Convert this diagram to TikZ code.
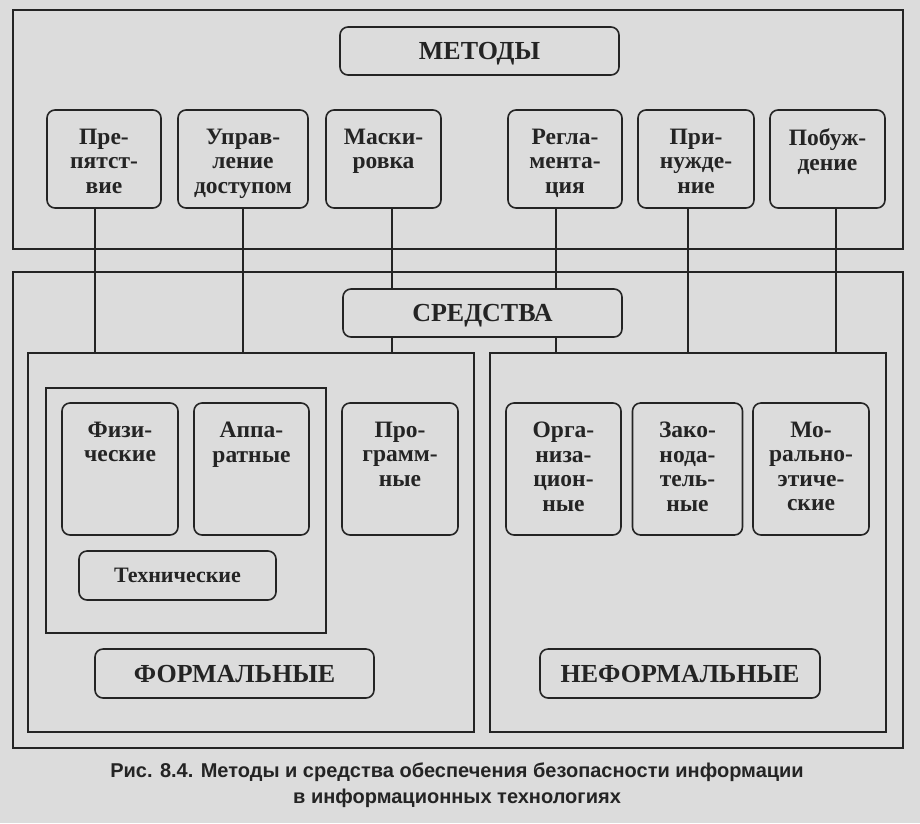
\documentclass[tikz,border=0pt]{standalone}
\usepackage{fontspec}
\setmainfont{Liberation Serif}
\setsansfont{Liberation Sans}
\usepackage{tikz}

\definecolor{paper}{HTML}{DCDCDC}
\definecolor{ink}{HTML}{242424}
% text block hanging from the top of a cell
\newcommand{\celltext}[2]{\parbox[c][#1][t]{110pt}{\centering #2}}

\begin{document}
\begin{tikzpicture}[x=1pt,y=-1pt,
  frame/.style={draw=ink,line width=2.8pt,inner sep=0pt,outer sep=0pt},
  cell/.style={draw=ink,text=ink,line width=1.6pt,rounded corners=8pt,fill=paper,inner sep=0pt,
    font=\bfseries\fontsize{23.5}{24.5}\selectfont},
  headbox/.style={cell,minimum width=279pt,minimum height=48pt,text depth=0pt,font=\bfseries\fontsize{26}{28}\selectfont},
  wire/.style={draw=ink,line width=1.8pt}]
\fill[paper] (0,0) rectangle (920,823);

% frames
\node[frame,minimum width=890pt,minimum height=239pt] (methodsframe) at (458,129.5) {};
\node[frame,minimum width=890pt,minimum height=476pt] (meansframe) at (458,510) {};
\node[frame,minimum width=446pt,minimum height=379pt] (formal) at (251,542.5) {};
\node[frame,minimum width=396pt,minimum height=379pt] (informal) at (688,542.5) {};
\node[frame,minimum width=280pt,minimum height=245pt] (techframe) at (186,510.5) {};

% methods
\node[headbox] (methods) at (479.5,51) {МЕТОДЫ};
\node[cell,minimum width=114pt,minimum height=98pt] (obstacle) at (104,159) {\celltext{60pt}{Пре-\\пятст-\\вие}};
\node[cell,minimum width=130pt,minimum height=98pt] (access) at (243,159) {\celltext{60pt}{Управ-\\ление\\доступом}};
\node[cell,minimum width=115pt,minimum height=98pt] (masking) at (383.5,159) {\celltext{60pt}{Маски-\\ровка}};
\node[cell,minimum width=114pt,minimum height=98pt] (regulation) at (565,159) {\celltext{60pt}{Регла-\\мента-\\ция}};
\node[cell,minimum width=116pt,minimum height=98pt] (coercion) at (696,159) {\celltext{60pt}{При-\\нужде-\\ние}};
\node[cell,minimum width=115pt,minimum height=98pt] (incentive) at (827.5,159) {\celltext{60pt}{Побуж-\\дение}};

% links down to the means
\draw[wire] ([xshift=-9pt]obstacle.south) -- ([xshift=-9pt]obstacle.south |- formal.north);
\draw[wire] (access.south) -- (access.south |- formal.north);
\draw[wire] ([xshift=8.5pt]masking.south) -- ([xshift=8.5pt]masking.south |- formal.north);
\draw[wire] ([xshift=-9pt]regulation.south) -- ([xshift=-9pt]regulation.south |- informal.north);
\draw[wire] ([xshift=-8pt]coercion.south) -- ([xshift=-8pt]coercion.south |- informal.north);
\draw[wire] ([xshift=8.5pt]incentive.south) -- ([xshift=8.5pt]incentive.south |- informal.north);

% means
\node[headbox] (means) at (482.5,313) {СРЕДСТВА};
\node[cell,minimum width=116pt,minimum height=132pt] (physical) at (120,469) {\celltext{94pt}{Физи-\\ческие}};
\node[cell,minimum width=115pt,minimum height=132pt] (hardware) at (251.5,469) {\celltext{94pt}{Аппа-\\ратные}};
\node[cell,minimum width=116pt,minimum height=132pt] (software) at (400,469) {\celltext{94pt}{Про-\\грамм-\\ные}};
\node[cell,minimum width=115pt,minimum height=132pt] (organiz) at (563.5,469) {\celltext{94pt}{Орга-\\низа-\\цион-\\ные}};
\node[cell,minimum width=99pt,minimum height=132pt] (legal) at (687.5,469) {\celltext{94pt}{Зако-\\нода-\\тель-\\ные}};
\node[cell,minimum width=116pt,minimum height=132pt] (moral) at (811,469) {\celltext{94pt}{Мо-\\рально-\\этиче-\\ские}};
\node[cell,minimum width=197pt,minimum height=49pt,font=\bfseries\fontsize{22}{24}\selectfont] (technical) at (177.5,575.5) {Технические};
\node[headbox,minimum width=279pt,minimum height=49pt] (formlabel) at (234.5,673.5) {ФОРМАЛЬНЫЕ};
\node[headbox,minimum width=280pt,minimum height=49pt] (informlabel) at (680,673.5) {НЕФОРМАЛЬНЫЕ};

% caption
\node[text=ink,align=center,font=\sffamily\bfseries\fontsize{20}{26}\selectfont] (caption) at (457,785)
  {Рис. 8.4. Методы и средства обеспечения безопасности информации\\в информационных технологиях};
\end{tikzpicture}
\end{document}
